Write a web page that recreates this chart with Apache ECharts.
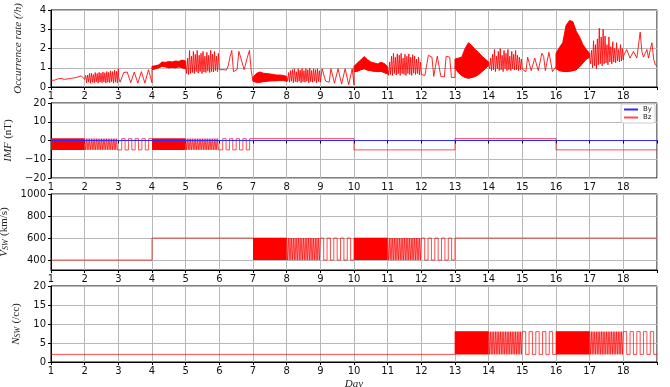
<!DOCTYPE html>
<html>
<head>
<meta charset="utf-8">
<script src="https://cdn.jsdelivr.net/npm/echarts@6/dist/echarts.min.js"></script>
<style>
  html, body { margin: 0; padding: 0; background: #fff; }
  #chart { width: 670px; height: 387px; }
</style>
</head>
<body>
<div id="chart"></div>
<script>
// axis ticks
var rateTicks = [0, 1, 2, 3, 4];
var imfTicks = [-20, -10, 0, 10, 20];
var vswTicks = [400, 600, 800, 1000];
var nswTicks = [0, 5, 10, 15, 20];

// ---- solar wind / IMF inputs (levels held for equal time slots inside each part) ----
var bzMedium = [1,-5,1,-5,1,-5,1,-5,1,-5,1,-5,1,-5,1,-5,1,-5,1,-5,
                1,-5,1,-5,1,-5,1,-5,1,-5,1,-5,1,-5,1,-5,1,-5,1,-5];
var bzSlow = [-5,1,-5,1,-5,1,-5,1,-5,1];
var bzRange = [-5, 1];
var bzBands = [[1, 2], [4, 5]];

var vswMedium = [600,400,600,400,600,400,600,400,600,400,600,400,600,400,600,400,600,400,600,400,
                 600,400,600,400,600,400,600,400,600,400,600,400,600,400,600,400,600,400,600,400];
var vswSlow = [600,400,600,400,600,400,600,400,600,400];
var vswRange = [400, 600];
var vswBands = [[7, 8], [10, 11]];

var nswMedium = [8,2,8,2,8,2,8,2,8,2,8,2,8,2,8,2,8,2,8,2,
                 8,2,8,2,8,2,8,2,8,2,8,2,8,2,8,2,8,2,8,2];
var nswSlow = [8,2,8,2,8,2,8,2,8,2];
var nswRange = [2, 8];
var nswBands = [[13, 14], [16, 17]];

var byParts = [[1, 19, [0]]];
var bzParts = [[1, 2, [1]], [2, 3, bzMedium], [3, 4, bzSlow], [4, 5, [1]], [5, 6, bzMedium], [6, 7, bzSlow],
               [7, 10, [1]], [10, 13, [-5]], [13, 16, [1]], [16, 19, [-5]]];
var vswParts = [[1, 4, [400]], [4, 7, [600]], [7, 8, [600]], [8, 9, vswMedium], [9, 10, vswSlow],
                [10, 11, [600]], [11, 12, vswMedium], [12, 13, vswSlow], [13, 19, [600]]];
var nswParts = [[1, 13, [2]], [13, 14, [8]], [14, 15, nswMedium], [15, 16, nswSlow],
                [16, 17, [8]], [17, 18, nswMedium], [18, 19, nswSlow]];

// ---- occurrence rate (/h), samples evenly over each day ----
var rateDay1 = [0.35,0.34,0.35,0.37,0.42,0.48,0.44,0.39,0.4,0.41,0.42,0.44,0.45,0.46,0.48,0.49,0.52,0.55,0.58,0.5,0.4];
var rateDay2 = [0.4,0.6,0.22,0.62,0.25,0.7,0.2,0.72,0.24,0.65,0.22,0.75,0.26,0.7,0.2,0.76,0.25,0.72,0.22,0.78,0.26,0.74,0.2,0.8,0.25,0.76,0.22,0.84,0.27,0.8,0.2,0.88,0.25,0.82,0.22,0.95];
var rateDay3 = [0.55,0.25,0.22,0.75,0.8,0.78,0.7,0.22,0.2,0.78,0.75,0.2,0.22,0.8,0.85,0.2,0.22,0.9,0.95,0.22];
var rate4Low = [0.9,0.95,1.0,1.08,1.05,1.0,1.02,1.0,1.05,1.0,0.95];
var rate4High = [1.08,1.1,1.15,1.3,1.28,1.32,1.3,1.35,1.33,1.4,1.35];
var rateDay5 = [1.1,0.7,1.5,0.65,1.9,0.7,1.6,0.75,1.85,0.7,1.7,0.8,1.9,0.72,1.65,0.8,1.75,0.7,1.85,0.78,1.6,0.75,1.8,0.82,1.65,0.75,1.9,0.8,1.7,0.78,1.85,0.85,1.6,0.8,1.75,0.9];
var rateDay6 = [1.0,0.85,0.9,0.85,0.88,1.1,1.55,1.9,0.8,0.85,0.9,1.85,1.55,1.5,0.9,0.85,1.6,1.9,0.85,0.75];
var rate7Low = [0.3,0.25,0.25,0.28,0.3,0.32,0.33,0.33,0.35,0.35,0.3];
var rate7High = [0.5,0.7,0.78,0.72,0.7,0.68,0.65,0.62,0.62,0.6,0.55];
var rateDay8 = [0.5,0.3,0.75,0.25,0.85,0.3,0.9,0.22,0.95,0.28,0.8,0.25,0.95,0.3,0.88,0.22,0.97,0.28,0.85,0.25,0.95,0.3,0.9,0.22,0.98,0.28,0.86,0.25,0.95,0.3,0.9,0.22,0.95,0.28,0.85,0.25];
var rateDay9 = [0.3,0.95,1.0,0.3,0.2,0.25,0.95,0.95,0.2,0.2,0.95,0.95,0.15,0.12,0.95,0.92,0.12,0.1,0.95,0.1];
var rate10Low = [0.8,0.82,0.9,0.95,0.88,0.85,0.82,0.8,0.82,0.75,0.68];
var rate10High = [1.07,1.25,1.4,1.58,1.42,1.3,1.25,1.2,1.28,1.22,1.05];
var rateDay11 = [0.9,0.6,1.3,0.65,1.6,0.6,1.75,0.7,1.55,0.62,1.72,0.68,1.65,0.6,1.75,0.7,1.5,0.65,1.7,0.6,1.6,0.7,1.72,0.65,1.55,0.6,1.68,0.72,1.6,0.65,1.45,0.7,1.55,0.62,1.3,0.65];
var rateDay12 = [0.6,0.55,0.6,0.58,1.65,1.6,1.55,0.55,0.5,1.6,1.65,0.55,0.5,0.52,1.6,1.65,1.55,0.5,0.48,0.5];
var rate13Low = [1.0,0.75,0.6,0.5,0.46,0.5,0.55,0.65,0.8,0.95,1.15];
var rate13High = [1.45,1.5,1.55,2.0,2.3,2.15,1.95,1.8,1.6,1.45,1.3];
var rateDay14 = [1.2,0.95,1.5,0.85,1.7,0.9,1.95,0.8,1.6,0.95,1.85,0.85,2.0,0.9,1.65,0.8,1.9,0.95,1.75,0.85,1.95,0.9,1.6,0.85,1.85,0.95,1.7,0.88,1.9,0.9,1.65,0.85,1.55,0.9,1.45,0.92];
var rateDay15 = [0.9,0.85,0.8,1.55,1.5,0.85,0.8,1.5,1.55,0.85,0.82,1.75,1.6,0.85,0.8,1.8,1.7,0.8,0.85,1.05];
var rate16Low = [0.95,0.85,0.82,0.8,0.82,0.85,0.9,1.05,1.25,1.45,1.55];
var rate16High = [1.75,2.05,2.3,3.2,3.45,3.4,2.9,2.6,2.2,1.95,1.75];
var rateDay17 = [1.5,1.2,1.9,1.0,2.4,1.1,2.2,0.95,2.5,1.15,3.05,1.2,2.6,1.1,3.0,1.2,2.65,1.25,2.2,1.15,2.6,1.3,2.1,1.2,2.35,1.3,2.0,1.25,2.3,1.35,1.95,1.3,2.2,1.35,2.0,1.4];
var rateDay18 = [1.6,1.55,1.95,1.9,1.5,1.45,1.85,1.9,1.5,1.55,2.85,1.85,1.55,1.6,1.95,1.5,1.95,2.3,1.45,1.15,1.1];

var rateParts = [[1, 2, rateDay1], [2, 3, rateDay2], [3, 4, rateDay3], [4, 5, rate4Low], [5, 6, rateDay5],
                 [6, 7, rateDay6], [7, 8, rate7Low], [8, 9, rateDay8], [9, 10, rateDay9], [10, 11, rate10Low],
                 [11, 12, rateDay11], [12, 13, rateDay12], [13, 14, rate13Low], [14, 15, rateDay14],
                 [15, 16, rateDay15], [16, 17, rate16Low], [17, 18, rateDay17], [18, 19, rateDay18]];
var rateBands = [[4, 5, rate4Low, rate4High], [7, 8, rate7Low, rate7High], [10, 11, rate10Low, rate10High],
                 [13, 14, rate13Low, rate13High], [16, 17, rate16Low, rate16High]];

// step points: each level holds for an equal slot of its part
function stepPoints(parts) {
  var pts = [];
  parts.forEach(function (p) {
    for (var k = 0; k < p[2].length; k++) pts.push([p[0] + (p[1] - p[0]) * k / p[2].length, p[2][k]]);
  });
  var last = parts[parts.length - 1];
  pts.push([last[1], last[2][last[2].length - 1]]);
  return pts;
}
// samples spread from start to end of each part (inclusive)
function samplePoints(parts) {
  var pts = [];
  parts.forEach(function (p) {
    var n = p[2].length - 1;
    for (var k = 0; k <= n; k++) pts.push([p[0] + (p[1] - p[0]) * k / n, p[2][k]]);
  });
  return pts;
}

var RED = 'rgba(255,0,0,0.7)';
var font = 'DejaVu Sans';
var serif = 'Liberation Serif';
var tops = [10, 103, 194, 286];
var heights = [77, 75, 76, 76];

function blockSeries(bands, range, idx) {
  return {
    type: 'custom', xAxisIndex: idx, yAxisIndex: idx, silent: true, z: 2,
    data: bands.map(function (b) { return [b[0], b[1], range[0], range[1]]; }),
    encode: { x: [0, 1], y: [2, 3] },
    renderItem: function (params, api) {
      var p0 = api.coord([api.value(0), api.value(3)]);
      var p1 = api.coord([api.value(1), api.value(2)]);
      return { type: 'rect', shape: { x: p0[0], y: p0[1], width: p1[0] - p0[0], height: p1[1] - p0[1] },
               style: { fill: '#ff0000' } };
    }
  };
}

function stepSeries(name, parts, idx, color, width, z) {
  return {
    name: name, type: 'line', xAxisIndex: idx, yAxisIndex: idx, step: 'end', z: z || 3,
    showSymbol: false, symbol: 'none', silent: true,
    itemStyle: { color: color },
    lineStyle: { color: color, width: width || 1 },
    data: stepPoints(parts)
  };
}

var nameRich = {
  i: { fontFamily: serif, fontStyle: 'italic', fontSize: 11, color: '#222' },
  s: { fontFamily: serif, fontStyle: 'italic', fontSize: 8, color: '#222', padding: [4, 0, 0, 0] },
  r: { fontFamily: serif, fontSize: 11, color: '#222' }
};

function xAxisFor(idx) {
  var ax = {
    type: 'value', gridIndex: idx, min: 1, max: 19, interval: 1,
    axisLine: { lineStyle: { color: '#000', width: 1 } },
    axisTick: { length: 3, lineStyle: { color: '#000' } },
    axisLabel: { fontSize: 10, fontFamily: font, color: '#111', margin: 4, showMinLabel: true,
                 formatter: function (v) { return v === 19 ? '' : String(v); } },
    splitLine: { show: true, lineStyle: { color: '#b8b8b8', width: 1 } }
  };
  if (idx === 3) {
    ax.name = 'Day';
    ax.nameLocation = 'middle';
    ax.nameGap = 17;
    ax.nameTextStyle = { fontFamily: serif, fontStyle: 'italic', fontSize: 11, color: '#222' };
  }
  return ax;
}

function yAxisFor(idx, ticks, name, min) {
  var ax = {
    type: 'value', gridIndex: idx,
    min: min, max: ticks[ticks.length - 1],
    name: name, nameLocation: 'middle', nameRotate: 90, nameGap: 27,
    nameTextStyle: { rich: nameRich },
    axisLine: { lineStyle: { color: '#000', width: 1 } },
    axisTick: { length: 3, lineStyle: { color: '#000' }, customValues: ticks },
    axisLabel: { fontSize: 10, fontFamily: font, color: '#111', margin: 5, customValues: ticks,
                 formatter: function (v) { return String(v).replace('-', '\u2212'); } },
    splitLine: { show: true, lineStyle: { color: '#b8b8b8', width: 1 } }
  };
  return ax;
}

var chart = echarts.init(document.getElementById('chart'), null, { renderer: 'canvas' });
chart.setOption({
  animation: false,
  backgroundColor: '#fff',
  grid: tops.map(function (t, i) {
    return { left: 51, right: 13, top: t, height: heights[i], show: true, borderColor: '#000', borderWidth: 1,
             backgroundColor: 'transparent', containLabel: false, outerBoundsMode: 'none' };
  }),
  legend: {
    orient: 'vertical', right: 15, top: 104, padding: [2, 3], itemGap: 1,
    itemWidth: 14, itemHeight: 2, backgroundColor: '#fff',
    borderColor: '#ccc', borderWidth: 1, borderRadius: 2,
    textStyle: { fontSize: 7, fontFamily: font, color: '#222', lineHeight: 7 },
    data: [{ name: 'By', icon: 'rect' }, { name: 'Bz', icon: 'rect' }]
  },
  xAxis: [0, 1, 2, 3].map(xAxisFor),
  yAxis: [
    yAxisFor(0, rateTicks, '{i|Occurrence rate (/h)}', rateTicks[0]),
    yAxisFor(1, imfTicks, '{i|IMF} {r|(nT)}', imfTicks[0]),
    yAxisFor(2, vswTicks, '{i|V}{s|SW} {r|(km/s)}', 310),
    yAxisFor(3, nswTicks, '{i|N}{s|SW} {r|(/cc)}', nswTicks[0])
  ],
  series: [
    {
      type: 'custom', xAxisIndex: 0, yAxisIndex: 0, silent: true, z: 2,
      data: rateBands.map(function (b) { return [b[0], b[1]]; }),
      encode: { x: [0, 1] },
      renderItem: function (params, api) {
        var b = rateBands[params.dataIndex];
        var n = b[3].length - 1, pts = [], k;
        for (k = 0; k <= n; k++) pts.push(api.coord([b[0] + (b[1] - b[0]) * k / n, b[3][k]]));
        for (k = n; k >= 0; k--) pts.push(api.coord([b[0] + (b[1] - b[0]) * k / n, b[2][k]]));
        return { type: 'polygon', shape: { points: pts }, style: { fill: '#ff0000', stroke: '#ff0000', lineWidth: 1 } };
      }
    },
    {
      name: 'rate', type: 'line', xAxisIndex: 0, yAxisIndex: 0, z: 3,
      showSymbol: false, symbol: 'none', silent: true,
      lineStyle: { color: 'rgba(255,0,0,0.85)', width: 1 },
      data: samplePoints(rateParts)
    },
    blockSeries(bzBands, bzRange, 1),
    stepSeries('Bz', bzParts, 1, RED),
    stepSeries('By', byParts, 1, '#2a2aff', 1.2, 4),
    blockSeries(vswBands, vswRange, 2),
    stepSeries('Vsw', vswParts, 2, RED),
    blockSeries(nswBands, nswRange, 3),
    stepSeries('Nsw', nswParts, 3, RED)
  ]
});
</script>
</body>
</html>
